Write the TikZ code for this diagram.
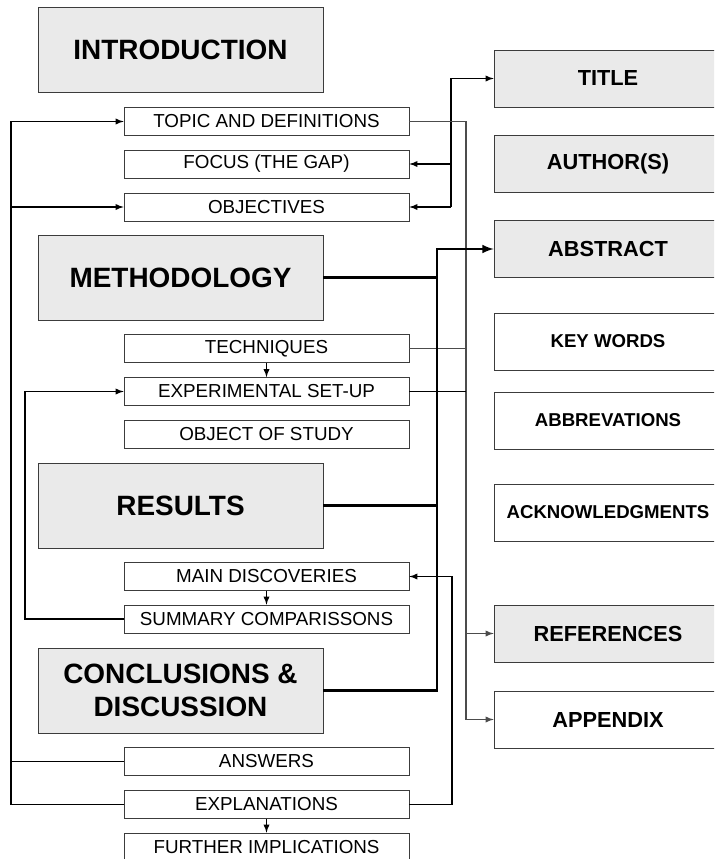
\documentclass[tikz,border=0pt]{standalone}
\usepackage{fontspec}
\setmainfont{Liberation Sans}
\usepackage{xcolor}
\usetikzlibrary{calc}
\definecolor{boxgray}{RGB}{234,234,234}
\definecolor{boxline}{RGB}{60,60,60}
\newcommand{\bigtxt}{\fontsize{15.9}{18.7}\selectfont\bfseries}
\newcommand{\smalltxt}{\fontsize{10.7}{12}\selectfont}
\newcommand{\righttxt}{\fontsize{12.4}{14}\selectfont\bfseries}
\newcommand{\rightsmalltxt}{\fontsize{10.6}{12}\selectfont\bfseries}

\begin{document}
\begin{tikzpicture}[x=0.02cm,y=-0.02cm,
	bigbox/.style={draw=boxline,fill=boxgray,minimum width=5.7cm,minimum height=1.7cm,align=center,inner sep=0pt,font=\bigtxt},
	smallbox/.style={draw=boxline,fill=white,minimum width=5.7cm,minimum height=0.56cm,inner sep=0pt,font=\smalltxt},
	greybox/.style={draw=boxline,fill=boxgray,minimum width=4.56cm,minimum height=1.14cm,inner sep=0pt,font=\righttxt},
	whitebox/.style={draw=boxline,fill=white,minimum width=4.56cm,minimum height=1.14cm,inner sep=0pt,font=\rightsmalltxt},
	link/.style={line width=0.6pt},
	greylink/.style={line width=0.6pt,draw=black!70},
	thicklink/.style={line width=1.2pt}]
	\tikzset{>=latex}
	\clip (0,0) rectangle (714,859);
	
	% left column
	\node[bigbox] (intro) at (180.5,49.5) {INTRODUCTION};
	\node[smallbox] (topic) at (266.5,121.5) {TOPIC AND DEFINITIONS};
	\node[smallbox] (focus) at (266.5,164) {FOCUS (THE GAP)};
	\node[smallbox] (obj) at (266.5,207) {OBJECTIVES};
	
	\node[bigbox] (meth) at (180.5,277.5) {METHODOLOGY};
	\node[smallbox] (tech) at (266.5,348.5) {TECHNIQUES};
	\node[smallbox] (exp) at (266.5,391.5) {EXPERIMENTAL SET-UP};
	\node[smallbox] (study) at (266.5,434) {OBJECT OF STUDY};
	
	\node[bigbox] (res) at (180.5,505.5) {RESULTS};
	\node[smallbox] (disc) at (266.5,576.5) {MAIN DISCOVERIES};
	\node[smallbox] (summ) at (266.5,619) {SUMMARY COMPARISSONS};
	
	\node[bigbox] (concl) at (180.5,690.5) {CONCLUSIONS \&\\DISCUSSION};
	\node[smallbox] (ans) at (266.5,761.5) {ANSWERS};
	\node[smallbox] (expl) at (266.5,804.5) {EXPLANATIONS};
	\node[smallbox] (further) at (266.5,847) {FURTHER IMPLICATIONS};
	
	% right column
	\node[greybox] (title) at (608,78.5) {TITLE};
	\node[greybox] (author) at (608,163.5) {AUTHOR(S)};
	\node[greybox] (abstract) at (608,249) {ABSTRACT};
	\node[whitebox] (keyw) at (608,341.5) {KEY WORDS};
	\node[whitebox] (abbr) at (608,420.5) {ABBREVATIONS};
	\node[whitebox] (ackn) at (608,512.5) {ACKNOWLEDGMENTS};
	\node[greybox] (refs) at (608,633.5) {REFERENCES};
	\node[whitebox,font=\righttxt] (app) at (608,719.5) {APPENDIX};
	
	% bus lines
	\coordinate (lbus) at (11,0);
	\coordinate (ibus) at (25,0);
	\coordinate (kbus) at (437,0);
	\coordinate (tbus) at (451,0);
	\coordinate (mbus) at (452,0);
	\coordinate (gbus) at (466,0);
	
	\draw[link,->] (expl.west) -- (expl.west -| lbus) |- (topic.west);
	\draw[link] (ans.west) -- (ans.west -| lbus);
	\draw[link,->] (obj.west -| lbus) -- (obj.west);
	
	\draw[link,->] (summ.west) -- (summ.west -| ibus) |- (exp.west);
	
	\draw[link,->] (tbus |- obj.east) |- (title.west);
	\draw[link,->] (tbus |- focus.east) -- (focus.east);
	\draw[link,->] (tbus |- obj.east) -- (obj.east);
	
	\draw[greylink,->] (topic.east) -- (topic.east -| gbus) |- (app.west);
	\draw[greylink,->] (gbus |- refs.west) -- (refs.west);
	\draw[greylink] (tech.east) -- (tech.east -| gbus);
	\draw[link] (exp.east) -- (exp.east -| gbus);
	
	\draw[thicklink,->] (concl.east) -- (concl.east -| kbus) |- (abstract.west);
	\draw[thicklink] (meth.east) -- (meth.east -| kbus);
	\draw[thicklink] (res.east) -- (res.east -| kbus);
	
	\draw[link,->] (expl.east) -- (expl.east -| mbus) |- (disc.east);
	
	\draw[link,->] (tech.south) -- (exp.north);
	\draw[link,->] (disc.south) -- (summ.north);
	\draw[link,->] (expl.south) -- (further.north);
\end{tikzpicture}
\end{document}
